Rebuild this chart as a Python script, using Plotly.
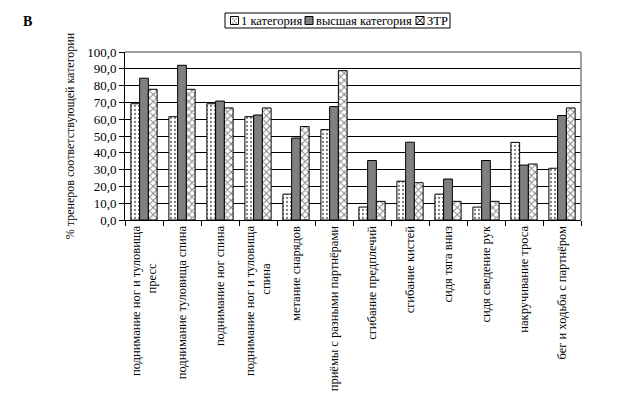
import plotly.graph_objects as go

EM = "\u2003"
categories = [
    "поднимание ног и туловища<br>пресс" + EM * 3,
    "поднимание туловища спина",
    "поднимание ног спина",
    "поднимание ног и туловища<br>спина" + EM * 3,
    "метание снарядов",
    "приёмы с разными партнёрами",
    "сгибание предплечий",
    "сгибание кистей",
    "сидя тяга вниз",
    "сидя сведение рук",
    "накручивание троса",
    "бег и ходьба с партнёром",
]
cat1 = [69.2, 61.5, 69.2, 61.5, 15.4, 53.8, 7.7, 23.1, 15.4, 7.7, 46.2, 30.8]
higher = [84.4, 92.1, 70.8, 62.5, 48.8, 67.5, 35.4, 46.3, 24.4, 35.4, 32.7, 62.2]
ztr = [77.8, 77.8, 66.7, 66.7, 55.6, 88.9, 11.1, 22.2, 11.1, 11.1, 33.3, 66.7]
series_names = ["1 категория", "высшая категория", "ЗТР"]
y_ticks = [0, 10, 20, 30, 40, 50, 60, 70, 80, 90, 100]
y_ticktext = [f"{v:.1f}".replace(".", ",") for v in y_ticks]

FONT = "Liberation Serif, Times New Roman, serif"

fig = go.Figure()
fig.add_trace(go.Bar(
    x=categories, y=cat1, name=series_names[0],
    marker=dict(color="white", line=dict(color="black", width=1),
                pattern=dict(shape=".", fgcolor="black", bgcolor="white", size=4, solidity=0.25)),
))
fig.add_trace(go.Bar(
    x=categories, y=higher, name=series_names[1],
    marker=dict(color="#808080", line=dict(color="black", width=1)),
))
fig.add_trace(go.Bar(
    x=categories, y=ztr, name=series_names[2],
    marker=dict(color="white", line=dict(color="black", width=1),
                pattern=dict(shape="x", fgcolor="black", bgcolor="white", size=5, solidity=0.35)),
))

W, H = 634, 395
ML, MR, MT, MB = 117, 61, 44, 183
PW, PH = W - ML - MR, H - MT - MB
def px(x):
    return (x - ML) / PW
def py(y):
    return (H - MB - y) / PH

shapes = [
    dict(type="line", xref="paper", yref="paper", x0=0, x1=1, y0=1, y1=1,
         line=dict(color="#808080", width=1.5), layer="above"),
    dict(type="line", xref="paper", yref="paper", x0=1, x1=1, y0=0, y1=1,
         line=dict(color="#808080", width=1.5), layer="above"),
    dict(type="rect", xref="paper", yref="paper", x0=px(217), x1=px(442), y0=py(5), y1=py(20),
         line=dict(color="black", width=1), fillcolor="white"),
]
annotations = [
    dict(text="<b>В</b>", xref="paper", yref="paper", x=px(13), y=py(13),
         xanchor="left", yanchor="middle", showarrow=False,
         font=dict(family=FONT, size=14)),
]
legend_items = [(222.5, "white", series_names[0]), (297, "#808080", series_names[1]), (408, "white", series_names[2])]
for i, (x0, col, name) in enumerate(legend_items):
    shapes.append(dict(type="rect", xref="paper", yref="paper", x0=px(x0), x1=px(x0 + 8),
                       y0=py(8.5), y1=py(16.5), line=dict(color="black", width=1), fillcolor=col))
    if i == 0:
        for dx, dy in [(2, 2), (5, 2), (3.5, 4), (2, 6), (5, 6)]:
            shapes.append(dict(type="rect", xref="paper", yref="paper",
                               x0=px(x0 + dx), x1=px(x0 + dx + 1), y0=py(8.5 + dy), y1=py(8.5 + dy + 1),
                               line=dict(width=0), fillcolor="black"))
    if i == 2:
        shapes.append(dict(type="line", xref="paper", yref="paper", x0=px(x0), x1=px(x0 + 8),
                           y0=py(8.5), y1=py(16.5), line=dict(color="black", width=1)))
        shapes.append(dict(type="line", xref="paper", yref="paper", x0=px(x0), x1=px(x0 + 8),
                           y0=py(16.5), y1=py(8.5), line=dict(color="black", width=1)))
    annotations.append(dict(text=name, xref="paper", yref="paper", x=px(x0 + 8.5), y=py(12.5),
                            xanchor="left", yanchor="middle", showarrow=False,
                            font=dict(family=FONT, size=12.5)))

fig.update_layout(
    width=W, height=H,
    margin=dict(l=ML, r=MR, t=MT, b=MB),
    paper_bgcolor="white", plot_bgcolor="white",
    font=dict(family=FONT, size=13, color="black"),
    barmode="group", bargap=0.31, bargroupgap=0,
    showlegend=False,
    xaxis=dict(
        type="category", showline=True, linecolor="black", linewidth=1,
        ticks="outside", tickson="boundaries", ticklen=5, tickcolor="black",
        tickangle=-90, tickfont=dict(family=FONT, size=12.5), showgrid=False,
        automargin=False,
    ),
    yaxis=dict(
        range=[0, 100], tickvals=y_ticks, ticktext=y_ticktext,
        showline=True, linecolor="black", linewidth=1,
        ticks="outside", ticklen=5, tickcolor="black",
        showgrid=True, gridcolor="black", gridwidth=1, zeroline=False,
        tickfont=dict(family=FONT, size=13), automargin=False,
        title=dict(text="% тренеров соответствующей категории", font=dict(family=FONT, size=12), standoff=9),
    ),
    shapes=shapes,
    annotations=annotations,
)

fig.write_html("out.html")
